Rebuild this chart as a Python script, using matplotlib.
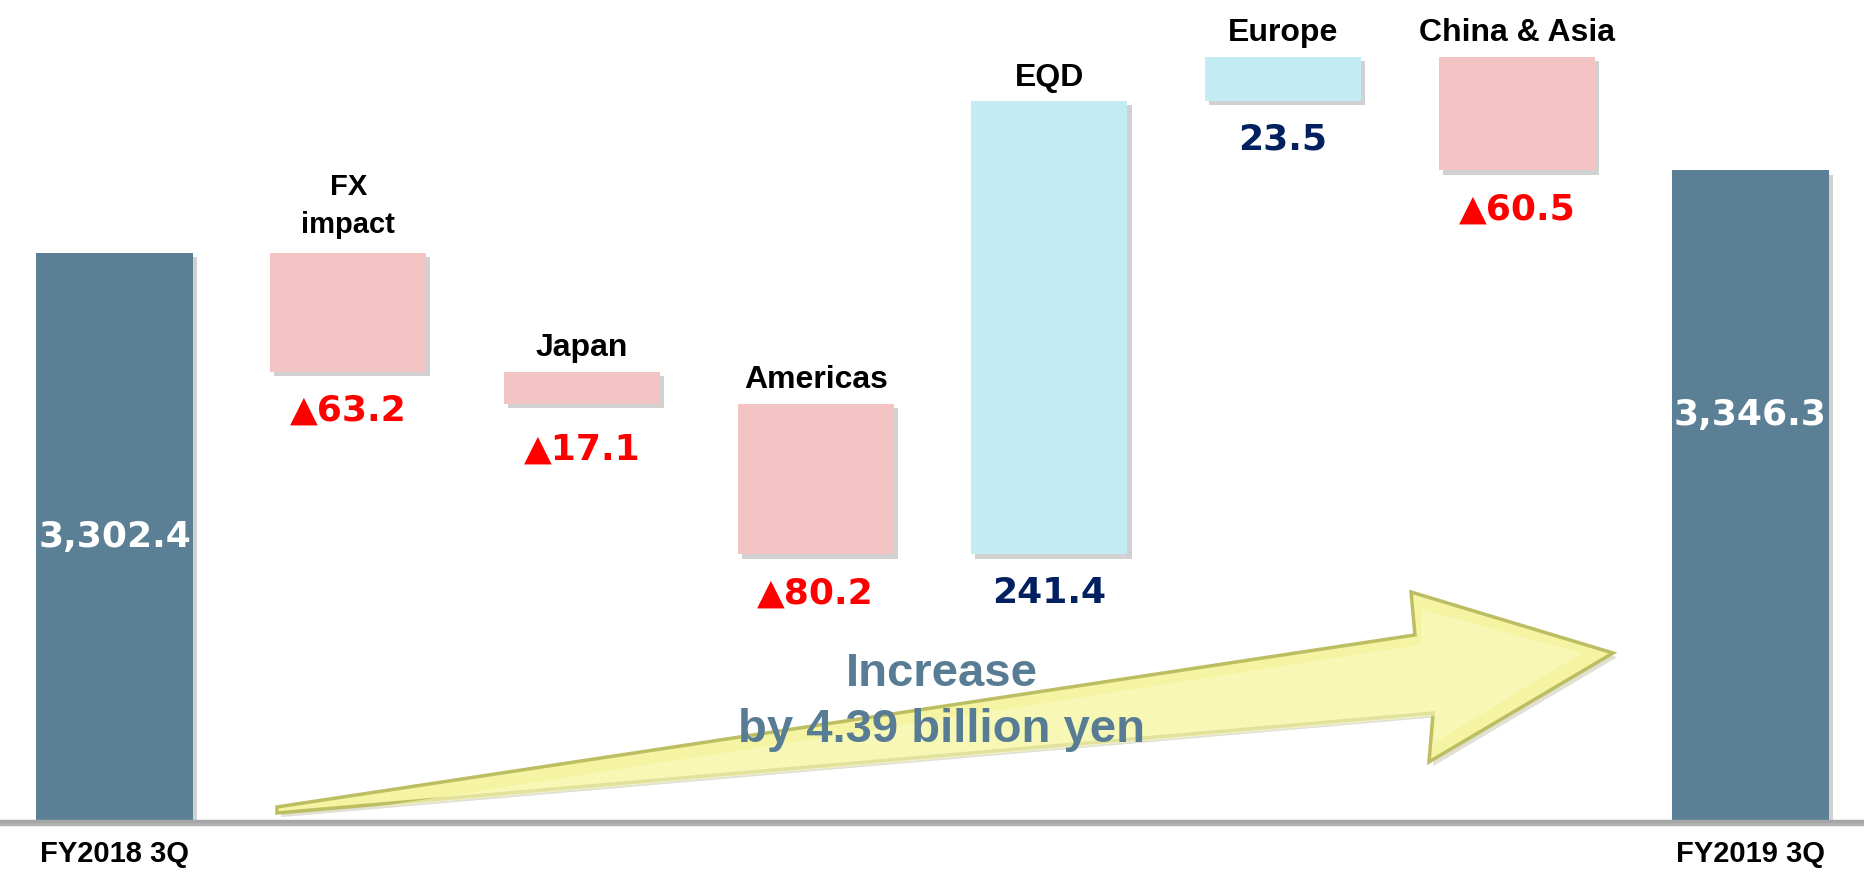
import matplotlib.pyplot as plt
import matplotlib.patheffects as pe
from matplotlib.patches import Polygon

# waterfall data (billion yen)
start_label = "FY2018 3Q"
end_label = "FY2019 3Q"
start_value = 3302.4
end_value = 3346.3
step_names = ["FX\nimpact", "Japan", "Americas", "EQD", "Europe", "China & Asia"]
step_values = [-63.2, -17.1, -80.2, 241.4, 23.5, -60.5]
note_text = "Increase\nby 4.39 billion yen"

c_total = "#5B7F95"
c_down = "#F4C4C4"
c_up = "#C2EBF4"
c_red = "#FF0000"
c_navy = "#002060"

num_font = "DejaVu Sans"
lab_font = "Liberation Sans"

fig = plt.figure(figsize=(18.65, 8.72), dpi=100)
ax = fig.add_axes([0, 0.0585, 1, 0.9415])
ax.set_xlim(-0.49, 7.49)
ax.set_ylim(3000, 3437)
for s in ax.spines.values():
    s.set_visible(False)
ax.set_yticks([])

shadow = [pe.SimplePatchShadow(offset=(3, -3), shadow_rgbFace="#8c8c8c", alpha=0.4), pe.Normal()]
width = 0.668

# total bars
xs_total = [0, len(step_values) + 1]
tot_vals = [start_value, end_value]
bars = ax.bar(xs_total, [v - 3000 for v in tot_vals], bottom=3000, width=width,
              color=c_total, zorder=3)
for b in bars:
    b.set_path_effects(shadow)
ax.text(0, (3000 + start_value) / 2, f"{start_value:,.1f}", color="white", ha="center",
        va="center", fontsize=26, fontweight="bold", family=num_font, zorder=5)
ax.text(xs_total[1], end_value - 130, f"{end_value:,.1f}", color="white", ha="center",
        va="center", fontsize=26, fontweight="bold", family=num_font, zorder=5)

# step bars
level = start_value
for i, (name, v) in enumerate(zip(step_names, step_values), start=1):
    new = level + v
    lo, hi = min(level, new), max(level, new)
    b = ax.bar(i, hi - lo, bottom=lo, width=width, color=c_down if v < 0 else c_up, zorder=3)[0]
    b.set_path_effects(shadow)
    txt = f"▲{abs(v):.1f}" if v < 0 else f"{v:.1f}"
    off = -33 if hi - lo < 20 else -28
    ax.annotate(txt, (i, lo), xytext=(0, off), textcoords="offset points", ha="center",
                va="center", fontsize=26, fontweight="bold", family=num_font,
                color=c_red if v < 0 else c_navy, zorder=5)
    multi = "\n" in name
    ax.annotate(name, (i, hi), xytext=(0, 10 if multi else 6), textcoords="offset points",
                ha="center", va="bottom", fontsize=21 if multi else 23, fontweight="bold",
                family=lab_font, color="black", linespacing=1.45, zorder=5)
    level = new

# baseline
ax.axhline(3000, color="#A6A6A6", lw=2.5, zorder=4, clip_on=False,
           path_effects=[pe.SimpleLineShadow(offset=(0, -2), alpha=0.3), pe.Normal()])

# big yellow arrow (decoration, axes fraction)
arrow_pts = [(0.1485, 0.0171), (0.7587, 0.2266), (0.7566, 0.2789), (0.8649, 0.2046),
             (0.7662, 0.0719), (0.7684, 0.1315), (0.1485, 0.0097)]
arrow = Polygon(arrow_pts, closed=True, transform=ax.transAxes, facecolor="#F4F4A2",
                edgecolor="#BDBD62", lw=2.5, zorder=2)
arrow.set_path_effects([pe.SimplePatchShadow(offset=(3, -3), shadow_rgbFace="#9a9a70", alpha=0.3),
                        pe.Normal()])
ax.add_patch(arrow)
# soft highlight along the arrow
inner_pts = [(0.20, 0.0165), (0.7620, 0.2150), (0.7620, 0.2580), (0.8480, 0.2046),
             (0.7690, 0.0950), (0.7700, 0.1280)]
ax.add_patch(Polygon(inner_pts, closed=True, transform=ax.transAxes, facecolor="#FBFBC4",
                     edgecolor="none", alpha=0.6, zorder=2))
ax.text(0.505, 0.145, note_text, transform=ax.transAxes, ha="center", va="center",
        fontsize=34, fontweight="bold", family=lab_font, color="#587C93",
        linespacing=1.35, zorder=6)

# x labels only on the totals
ax.set_xticks(range(len(step_values) + 2))
ax.set_xticklabels([start_label] + [""] * len(step_values) + [end_label],
                   fontsize=21, fontweight="bold", family=lab_font)
ax.tick_params(axis="x", length=0, pad=14)

fig.savefig("out.png", dpi=100)
